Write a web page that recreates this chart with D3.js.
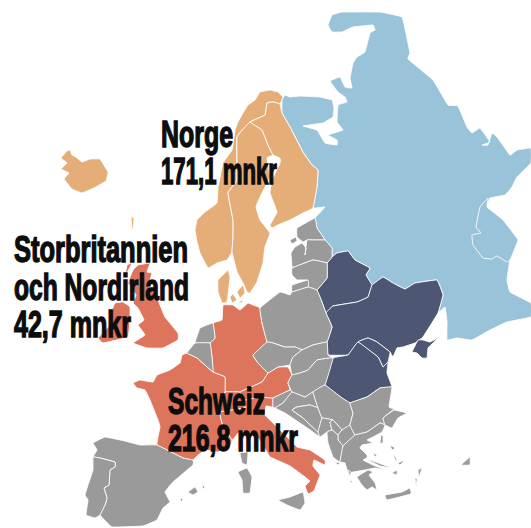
<!DOCTYPE html>
<html>
<head>
<meta charset="utf-8">
<script src="https://cdn.jsdelivr.net/npm/d3@7"></script>
<style>
  html, body { margin: 0; padding: 0; background: #fff; }
  svg { display: block; }
</style>
</head>
<body>
<script>
const russia = [[282,100],[285,95],[290,97],[300,96],[320,97],[332,100],[334,108],[333,117],[323,123],[303,126],[317,130],[325,143],[337,145],[337,140],[328,135],[343,130],[337,122],[338,105],[347,102],[345,97],[338,92],[330,81],[340,77],[345,87],[352,88],[350,78],[353,63],[357,57],[365,52],[370,33],[375,30],[373,25],[353,27],[342,32],[332,32],[328,25],[332,15],[342,12],[380,12],[402,17],[407,38],[410,53],[408,59],[433,80],[448,105],[458,106],[467,127],[472,133],[480,128],[490,142],[482,145],[488,145],[492,133],[497,137],[510,155],[517,150],[531,148],[531,163],[517,177],[512,187],[505,195],[490,198],[487,207],[503,220],[518,240],[510,260],[507,280],[510,292],[531,303],[531,317],[507,322],[490,330],[472,340],[457,338],[447,340],[447,322],[445,307],[438,313],[443,295],[437,280],[415,283],[405,289],[393,283],[383,277],[372,285],[366,275],[370,268],[355,260],[348,251],[337,253],[332,257],[332,248],[325,240],[317,228],[315,218],[325,207],[313,208],[317,187],[318,170],[312,165],[303,152],[290,127],[282,113]];
const kazakhstan = [[488,198],[480,207],[476,227],[481,233],[472,235],[473,245],[483,258],[492,259],[497,256],[507,262],[510,260],[518,240],[503,220],[487,207]];
const norway = [[283,97],[278,92],[270,90],[260,92],[255,100],[248,105],[243,113],[238,122],[235,130],[232,150],[223,163],[218,187],[217,203],[205,212],[197,220],[195,230],[197,242],[200,253],[208,268],[217,263],[227,260],[232,252],[233,237],[233,220],[228,193],[237,180],[237,137],[250,122],[265,115],[267,103],[273,102],[280,104]];
const sweden = [[237,137],[250,122],[262,130],[268,145],[273,155],[267,158],[270,177],[260,197],[256,207],[260,220],[270,233],[265,247],[263,263],[257,282],[250,293],[247,292],[243,283],[237,272],[232,252],[233,237],[233,220],[228,193],[237,180]];
const finland = [[265,115],[267,103],[273,102],[280,104],[282,113],[290,127],[303,152],[312,165],[318,170],[317,187],[313,208],[303,213],[290,220],[280,224],[272,228],[270,225],[277,212],[270,193],[272,180],[280,163],[280,158],[273,155],[268,145],[262,130],[250,122]];
const denmark = [[218,280],[228,270],[230,278],[227,302],[222,303],[218,292]];
const zealand = [[237,292],[243,285],[245,293],[240,298]];
const funen = [[230,297],[233,294],[237,300],[232,303]];
const lolland = [[238,302],[243,300],[242,303]];
const iceland = [[61,158],[67,151],[70,150],[72,155],[76,157],[82,162],[90,159],[100,159],[108,172],[106,181],[94,188],[82,193],[72,189],[64,179],[69,173],[61,169],[67,163]];
const faroes = [[131,217],[134,218],[133,229],[132,229]];
const estonia = [[297,228],[315,218],[317,228],[325,240],[315,240],[307,240],[303,242],[297,237]];
const saaremaa = [[290,240],[296,237],[297,241],[292,244]];
const latvia = [[307,240],[315,240],[325,240],[332,248],[332,257],[327,263],[313,260],[295,267],[292,267],[291,253],[295,247],[302,243],[306,248],[305,255]];
const lithuania = [[292,268],[313,260],[327,263],[327,278],[317,290],[308,287],[307,280],[297,280],[292,275]];
const kaliningrad = [[292,285],[308,280],[308,287],[292,292]];
const poland = [[260,308],[280,292],[290,295],[292,292],[308,287],[317,290],[322,302],[326,313],[332,327],[327,342],[313,345],[302,350],[295,347],[285,347],[273,343],[267,342],[262,323]];
const belarus = [[317,290],[327,278],[327,263],[332,257],[337,253],[348,251],[355,260],[370,268],[366,275],[372,285],[368,297],[357,302],[333,306],[326,313],[322,302]];
const ukraine = [[326,313],[333,306],[357,302],[368,297],[372,285],[383,277],[393,283],[405,289],[415,283],[437,280],[443,295],[438,313],[423,337],[415,343],[403,347],[397,348],[393,357],[390,352],[377,342],[368,338],[358,342],[348,355],[328,355],[327,342],[332,327]];
const crimea = [[412,352],[418,340],[423,340],[430,342],[438,338],[433,343],[428,348],[427,358],[422,358],[417,353]];
const moldova = [[358,342],[368,338],[377,342],[390,352],[388,362],[383,367],[378,357]];
const romania = [[333,358],[348,355],[358,342],[378,357],[383,367],[388,362],[387,373],[392,387],[380,388],[367,397],[350,403],[342,398],[325,385]];
const czechia = [[253,355],[267,342],[273,343],[285,347],[295,347],[302,350],[293,357],[290,365],[278,367],[268,373],[258,363]];
const slovakia = [[302,350],[313,345],[327,342],[328,355],[333,358],[317,360],[308,370],[300,373],[292,375],[290,365],[293,357]];
const hungary = [[292,375],[300,373],[308,370],[317,360],[333,358],[325,385],[313,392],[305,397],[292,392],[288,383]];
const austria = [[262,382],[268,373],[278,367],[288,367],[292,375],[288,383],[290,390],[273,398],[260,397],[245,400],[240,392]];
const germany = [[223,305],[233,305],[240,310],[248,303],[253,305],[260,308],[262,323],[267,342],[253,355],[258,363],[268,373],[262,382],[240,392],[225,392],[225,377],[213,372],[212,357],[210,343],[215,338],[213,323],[222,320]];
const netherlands = [[195,343],[200,328],[213,323],[215,338],[210,343]];
const belgium = [[187,353],[195,343],[210,343],[212,357],[213,372],[197,358]];
const france = [[133,383],[140,380],[153,382],[157,375],[170,370],[180,363],[182,355],[187,353],[197,358],[213,372],[225,377],[225,392],[220,412],[222,423],[232,440],[230,447],[218,452],[205,450],[197,456],[193,460],[183,458],[157,445],[160,427],[158,420],[150,400],[145,390],[137,388]];
const switzerland = [[225,392],[240,392],[245,400],[245,408],[222,412],[220,412]];
const italy = [[220,412],[245,408],[245,400],[260,397],[273,398],[273,407],[266,406],[265,415],[273,423],[287,437],[297,447],[310,450],[325,460],[325,465],[314,460],[313,466],[320,475],[317,483],[314,491],[308,494],[305,486],[310,481],[301,474],[290,466],[270,457],[267,452],[258,438],[250,433],[240,431],[232,440],[222,423]];
const sicily = [[278,500],[290,497],[303,492],[305,503],[300,510],[287,505]];
const sardinia = [[238,472],[247,468],[252,477],[250,493],[243,493],[242,480]];
const corsica = [[240,453],[248,452],[247,465],[242,463]];
const spain = [[93,443],[105,437],[125,441],[140,445],[157,445],[183,458],[193,460],[193,465],[173,482],[165,492],[170,502],[163,508],[157,520],[143,526],[112,527],[100,515],[105,505],[107,498],[104,488],[109,485],[110,470],[115,467],[115,462],[100,458],[93,457],[97,450]];
const portugal = [[93,457],[100,458],[115,462],[115,467],[110,470],[109,485],[104,488],[107,498],[105,505],[100,515],[95,518],[86,515],[88,500],[85,495],[88,485],[93,470]];
const mallorca = [[188,492],[195,487],[198,492],[193,495]];
const menorca = [[202,485],[205,487],[203,489]];
const ibiza = [[180,498],[183,499],[181,502]];
const britain = [[138,265],[150,263],[147,272],[152,273],[149,285],[158,300],[165,317],[178,333],[178,340],[163,348],[147,348],[133,343],[145,335],[138,325],[144,320],[138,308],[133,303],[136,295],[128,283],[133,270]];
const ireland = [[115,303],[123,302],[130,307],[130,320],[128,337],[103,343],[98,338],[108,327],[112,310]];
const hebrides = [[127,265],[132,263],[125,277]];
const slovenia = [[273,398],[290,390],[292,392],[283,403],[275,408],[273,407]];
const croatia = [[292,392],[305,397],[313,392],[318,408],[310,405],[297,407],[292,410],[303,418],[318,432],[320,437],[313,432],[300,423],[285,413],[275,408],[283,403]];
const bosnia = [[292,410],[297,407],[310,405],[318,408],[322,418],[318,432],[303,418]];
const serbia = [[313,392],[325,385],[342,398],[350,403],[353,413],[350,425],[342,430],[333,420],[322,418],[318,408]];
const montenegro = [[322,418],[333,420],[330,422],[332,430],[327,432],[320,437],[318,432]];
const kosovo = [[333,420],[342,430],[338,435],[332,430],[330,422]];
const macedonia = [[338,435],[342,430],[350,425],[355,435],[343,446],[338,440]];
const albania = [[327,432],[332,430],[338,435],[338,440],[343,446],[340,462],[333,457],[328,443]];
const bulgaria = [[350,403],[367,397],[380,388],[392,387],[389,407],[394,409],[383,418],[385,425],[380,423],[367,432],[355,435],[350,425],[353,413]];
const turkeyEurope = [[383,418],[394,410],[407,413],[398,418],[392,428],[385,425]];
const greece = [[343,446],[355,435],[367,432],[380,423],[385,425],[382,432],[373,437],[367,440],[373,443],[362,445],[360,448],[367,455],[367,458],[363,460],[373,465],[385,470],[375,468],[365,470],[353,472],[348,473],[345,463],[340,462]];
const peloponnese = [[357,477],[368,470],[373,472],[369,475],[375,483],[377,490],[372,487],[367,490],[362,485]];
const euboea = [[366,459],[373,461],[392,468],[380,466]];
const crete = [[385,495],[402,492],[410,488],[411,494],[387,500]];
const cyprus = [[461,465],[470,457],[470,465]];
const rhodes = [[418,470],[422,468],[419,477]];
const karpathos = [[415,478],[417,479],[416,487]];
const lesbos = [[390,445],[395,448],[392,450]];
const chios = [[393,453],[397,460],[395,460]];
const samos = [[398,463],[405,460],[400,465]];
const kos = [[392,473],[397,470],[397,475]];
const thassos = [[373,453],[377,455],[375,457]];
const samothrace = [[381,435],[383,436],[383,443],[380,443]];
const corfu = [[335,462],[340,463],[338,465]];
const kefalonia = [[348,470],[351,472],[350,477]];
const zakynthos = [[350,480],[353,482],[351,483]];

const regions = [
  { color: "#98c3d9", lands: [russia, kazakhstan] },
  { color: "#e5ae78", lands: [norway, sweden, finland, denmark, zealand, funen, lolland, iceland, faroes] },
  { color: "#4d5672", lands: [belarus, ukraine, crimea, moldova, romania] },
  { color: "#dd745c", lands: [britain, ireland, hebrides, germany, france, switzerland, italy, austria] },
  { color: "#9a9a9a", lands: [estonia, saaremaa, latvia, lithuania, kaliningrad, poland, czechia, slovakia, hungary, netherlands, belgium,
    sicily, sardinia, corsica, spain, portugal, mallorca, menorca, ibiza, slovenia, croatia, bosnia, serbia, montenegro, kosovo, macedonia,
    albania, bulgaria, turkeyEurope, greece, peloponnese, euboea, crete, cyprus, rhodes, karpathos, lesbos, chios, samos, kos, thassos,
    samothrace, corfu, kefalonia, zakynthos] }
];

// labels, with the left edge, baseline and width in map units
const labelText = ["Norge", "171,1 mnkr", "Storbritannien", "och Nordirland", "42,7 mnkr", "Schweiz", "216,8 mnkr"];
const labelX = [161, 161, 14, 14, 14, 168, 168];
const labelY = [147, 184, 262, 300, 337, 414, 451];
const labelWidth = [72, 116, 174, 175, 117, 97, 130];

const width = 531, height = 528;
const x = d3.scaleLinear().domain([0, 531]).range([0, width]);
const y = d3.scaleLinear().domain([0, 528]).range([0, height]);

const svg = d3.select("body").append("svg")
  .attr("width", width)
  .attr("height", height);

// high tension: only takes the edge off the corners, neighbours stay together
const outline = d3.line()
  .x(d => x(d[0]))
  .y(d => y(d[1]))
  .curve(d3.curveCardinalClosed.tension(0.8));

regions.forEach(region => {
  svg.append("g")
    .selectAll("path")
    .data(region.lands)
    .enter()
    .append("path")
    .attr("d", outline)
    .attr("fill", region.color)
    .attr("stroke", "#fff")
    .attr("stroke-width", 0.9)
    .attr("stroke-linejoin", "round");
});

svg.append("g")
  .selectAll("text")
  .data(labelText)
  .enter()
  .append("text")
  .attr("x", (d, i) => x(labelX[i]))
  .attr("y", (d, i) => y(labelY[i]))
  .attr("textLength", (d, i) => labelWidth[i])
  .attr("lengthAdjust", "spacingAndGlyphs")
  .attr("font-family", "'Liberation Sans Narrow', 'Liberation Sans', sans-serif")
  .attr("font-weight", "bold")
  .attr("font-size", 36)
  .attr("fill", "#0d0d0d")
  .attr("stroke", "#0d0d0d")
  .attr("stroke-width", 1.4)
  .text(d => d);
</script>
</body>
</html>
